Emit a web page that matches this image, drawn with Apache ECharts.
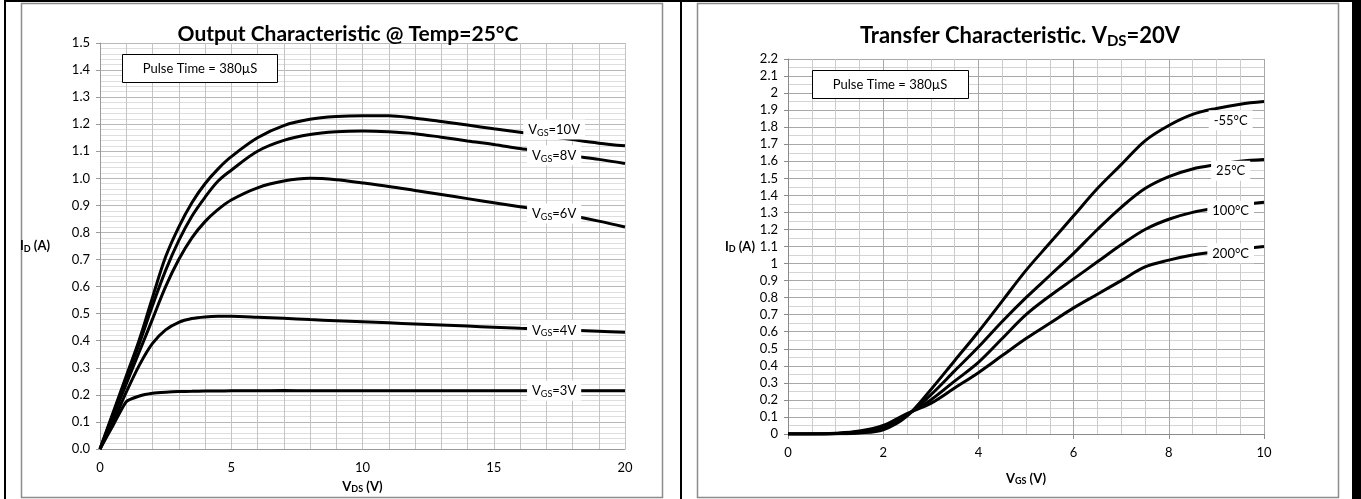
<!DOCTYPE html>
<html><head><meta charset="utf-8">
<script src="https://cdn.jsdelivr.net/npm/echarts@6/dist/echarts.min.js"></script>
<style>html,body{margin:0;padding:0;background:#fff}#c{width:1361px;height:499px}</style>
</head><body><div id="c"></div>
<script>
// ---- Output characteristic (left) ----
const vdsPoints = [0,0.5,1,1.5,2,2.5,3,3.5,4,4.5,5,6,7,8,9,10,11,12,13,14,15,16,17,18,19,20];
const idVgs10 = [0,0.135,0.27,0.405,0.56,0.71,0.82,0.91,0.98,1.035,1.08,1.15,1.195,1.218,1.228,1.231,1.231,1.222,1.21,1.197,1.183,1.17,1.157,1.143,1.13,1.12];
const idVgs8  = [0,0.13,0.26,0.39,0.53,0.66,0.77,0.86,0.93,0.99,1.03,1.1,1.14,1.162,1.172,1.175,1.172,1.165,1.152,1.138,1.125,1.11,1.097,1.083,1.07,1.055];
const idVgs6  = [0,0.12,0.24,0.36,0.48,0.6,0.7,0.78,0.84,0.885,0.92,0.965,0.99,1.0,0.995,0.983,0.97,0.955,0.94,0.925,0.91,0.895,0.88,0.862,0.842,0.82];
const idVgs4  = [0,0.1,0.21,0.31,0.39,0.44,0.468,0.482,0.488,0.49,0.49,0.487,0.483,0.478,0.474,0.47,0.466,0.462,0.458,0.454,0.45,0.446,0.443,0.439,0.435,0.431];
const idVgs3  = [0,0.088,0.175,0.196,0.206,0.21,0.212,0.213,0.214,0.214,0.215,0.215,0.216,0.215,0.215,0.215,0.215,0.215,0.215,0.215,0.215,0.215,0.215,0.215,0.215,0.215];
const outNames = ['10V','8V','6V','4V','3V'];
const outSmooth = [0.35,0.35,0.35,0.3,0.15];
const outLabelX = 17.3;
const outLabelY = [1.18,1.085,0.87,0.44,0.215];

// ---- Transfer characteristic (right) ----
const vgsPoints = [0,0.5,1,1.5,2,2.5,3,3.5,4,4.5,5,5.5,6,6.5,7,7.5,8,8.5,9,9.5,10];
const idTm55  = [0,0,0.001,0.006,0.025,0.105,0.26,0.43,0.6,0.78,0.96,1.12,1.28,1.44,1.58,1.72,1.81,1.875,1.91,1.935,1.95];
const idT25   = [0,0,0.002,0.01,0.035,0.11,0.23,0.37,0.51,0.66,0.8,0.93,1.06,1.2,1.33,1.44,1.51,1.555,1.58,1.6,1.61];
const idT100  = [0,0,0.003,0.013,0.042,0.115,0.2,0.31,0.42,0.56,0.7,0.81,0.91,1.01,1.11,1.2,1.26,1.3,1.325,1.345,1.36];
const idT200  = [0,0,0.004,0.017,0.05,0.12,0.18,0.27,0.36,0.46,0.56,0.65,0.74,0.82,0.9,0.98,1.02,1.05,1.07,1.085,1.1];
const tempNames = ['-55°C','25°C','100°C','200°C'];
const tempLabelX = 9.3;
const tempLabelY = [1.84,1.545,1.31,1.06];

const FONT = 'Lato, "Open Sans", sans-serif';
const pair = (xs, ys) => xs.map((x, i) => [x, ys[i]]);
const sub = {
  m: {fontFamily: FONT, fontSize: 13, color: '#000', lineHeight: 15},
  s: {fontFamily: FONT, fontSize: 9, color: '#000', lineHeight: 10, verticalAlign: 'bottom'}
};
const subB = {
  b: {fontFamily: FONT, fontSize: 13, fontWeight: 'bold', color: '#000', lineHeight: 15},
  s: {fontFamily: FONT, fontSize: 9, fontWeight: 'bold', color: '#000', lineHeight: 10, verticalAlign: 'bottom'}
};

function curve(name, xi, yi, xs, ys, labelText, lx, ly, sm) {
  return {
    type: 'line', name, xAxisIndex: xi, yAxisIndex: yi,
    data: pair(xs, ys), smooth: sm, symbol: 'none', showSymbol: false,
    lineStyle: {color: '#000', width: 3}, silent: true, animation: false,
    markPoint: {
      symbol: 'rect', symbolSize: 0, silent: true, animation: false,
      data: [{coord: [lx, ly], label: {
        show: true, position: 'inside', formatter: labelText,
        backgroundColor: '#fff', padding: [3, 5, 2, 5], rich: sub
      }}]
    }
  };
}

const outSeries = [idVgs10, idVgs8, idVgs6, idVgs4, idVgs3].map((ys, i) =>
  curve('VGS=' + outNames[i], 1, 0, vdsPoints, ys, '{m|V}{s|GS}{m|=' + outNames[i] + '}', outLabelX, outLabelY[i], outSmooth[i]));
const trSeries = [idTm55, idT25, idT100, idT200].map((ys, i) =>
  curve(tempNames[i], 3, 1, vgsPoints, ys, '{m|' + tempNames[i] + '}', tempLabelX, tempLabelY[i], 0.35));

const lblStyle = {fontFamily: FONT, fontSize: 13, color: '#000'};
const option = {
  animation: false,
  backgroundColor: '#fff',
  title: [
    {text: 'Output Characteristic @ Temp=25°C', left: 343, textAlign: 'center', top: 19,
     textStyle: {fontFamily: FONT, fontSize: 21, fontWeight: 'bold', color: '#000'}},
    {text: '{t|Transfer Characteristic. V}{s|DS}{t|=20V}', left: 1015, textAlign: 'center', top: 17,
     textStyle: {rich: {
       t: {fontFamily: FONT, fontSize: 22, fontWeight: 'bold', color: '#000', lineHeight: 27},
       s: {fontFamily: FONT, fontSize: 15, fontWeight: 'bold', color: '#000', lineHeight: 15, verticalAlign: 'bottom'}
     }}}
  ],
  grid: [
    {left: 100, top: 43, width: 525, height: 407},
    {left: 788, top: 59, width: 476, height: 375}
  ],
  xAxis: [
    {gridIndex: 0, type: 'value', min: 0, max: 20, interval: 1, position: 'bottom',
     axisLine: {show: false}, axisTick: {show: false}, axisLabel: {show: false},
     splitLine: {show: true, lineStyle: {color: '#c4c4c4', width: 1}}},
    {gridIndex: 0, type: 'value', min: 0, max: 20, interval: 5, position: 'bottom',
     axisLine: {show: true, lineStyle: {color: '#9a9a9a'}}, axisTick: {show: false},
     axisLabel: Object.assign({margin: 12}, lblStyle), splitLine: {show: false},
     name: '{b|V}{s|DS}{b| (V)}', nameLocation: 'middle', nameGap: 30, nameTextStyle: {rich: subB}},
    {gridIndex: 1, type: 'value', min: 0, max: 10, interval: 0.5, position: 'bottom',
     axisLine: {show: false}, axisTick: {show: false}, axisLabel: {show: false},
     splitLine: {show: true, lineStyle: {color: '#cccccc', width: 1}}},
    {gridIndex: 1, type: 'value', min: 0, max: 10, interval: 2, position: 'bottom',
     axisLine: {show: true, lineStyle: {color: '#8a8a8a'}},
     axisTick: {show: true, length: 5, lineStyle: {color: '#8a8a8a'}},
     axisLabel: Object.assign({margin: 12}, lblStyle),
     splitLine: {show: true, lineStyle: {color: '#a8a8a8', width: 1}},
     name: '{b|V}{s|GS}{b| (V)}', nameLocation: 'middle', nameGap: 37, nameTextStyle: {rich: subB}}
  ],
  yAxis: [
    {gridIndex: 0, type: 'value', min: 0, max: 1.5, interval: 0.1,
     axisLine: {show: true, lineStyle: {color: '#9a9a9a'}},
     axisTick: {show: true, length: 4, lineStyle: {color: '#9a9a9a'}},
     axisLabel: Object.assign({margin: 10, formatter: v => v.toFixed(1)}, lblStyle),
     splitLine: {show: true, lineStyle: {color: '#b8b8b8'}},
     minorTick: {show: false, splitNumber: 5},
     minorSplitLine: {show: true, lineStyle: {color: '#dedede'}},
     name: '{b|I}{s|D}{b| (A)}', nameLocation: 'middle', nameRotate: 0, nameGap: 50, nameTextStyle: {rich: subB}},
    {gridIndex: 1, type: 'value', min: 0, max: 2.2, interval: 0.1,
     axisLine: {show: true, lineStyle: {color: '#8a8a8a'}},
     axisTick: {show: true, length: 4, lineStyle: {color: '#8a8a8a'}},
     axisLabel: Object.assign({margin: 10, formatter: v => String(Number(v.toFixed(1)))}, lblStyle),
     splitLine: {show: true, lineStyle: {color: '#a8a8a8'}},
     minorTick: {show: false, splitNumber: 2},
     minorSplitLine: {show: true, lineStyle: {color: '#d4d4d4'}},
     name: '{b|I}{s|D}{b| (A)}', nameLocation: 'middle', nameRotate: 0, nameGap: 26, nameTextStyle: {rich: subB}}
  ],
  graphic: [
    {type: 'rect', shape: {x: 4, y: 0, width: 1357, height: 2}, style: {fill: '#000'}, silent: true},
    {type: 'rect', shape: {x: 4, y: 0, width: 2, height: 499}, style: {fill: '#000'}, silent: true},
    {type: 'rect', shape: {x: 680, y: 0, width: 2, height: 499}, style: {fill: '#000'}, silent: true},
    {type: 'rect', shape: {x: 1352, y: 0, width: 9, height: 499}, style: {fill: '#000'}, silent: true},
    {type: 'rect', shape: {x: 21.5, y: 3.5, width: 641, height: 494}, style: {fill: 'none', stroke: '#8c8c8c', lineWidth: 1.5}, silent: true},
    {type: 'rect', shape: {x: 697.5, y: 3.5, width: 641, height: 494}, style: {fill: 'none', stroke: '#8c8c8c', lineWidth: 1.5}, silent: true},
    {type: 'rect', z: 100, shape: {x: 122.5, y: 54.5, width: 155, height: 28}, style: {fill: '#fff', stroke: '#000', lineWidth: 1}, silent: true},
    {type: 'text', z: 101, x: 200, y: 68.5, style: {text: 'Pulse Time = 380µS', font: '13px ' + FONT, fill: '#000', align: 'center', verticalAlign: 'middle'}, silent: true},
    {type: 'rect', z: 100, shape: {x: 812.5, y: 70.5, width: 156, height: 28}, style: {fill: '#fff', stroke: '#000', lineWidth: 1}, silent: true},
    {type: 'text', z: 101, x: 890, y: 84.5, style: {text: 'Pulse Time = 380µS', font: '13px ' + FONT, fill: '#000', align: 'center', verticalAlign: 'middle'}, silent: true}
  ],
  series: outSeries.concat(trSeries)
};
const chart = echarts.init(document.getElementById('c'), null, {renderer: 'canvas'});
chart.setOption(option);
</script></body></html>
